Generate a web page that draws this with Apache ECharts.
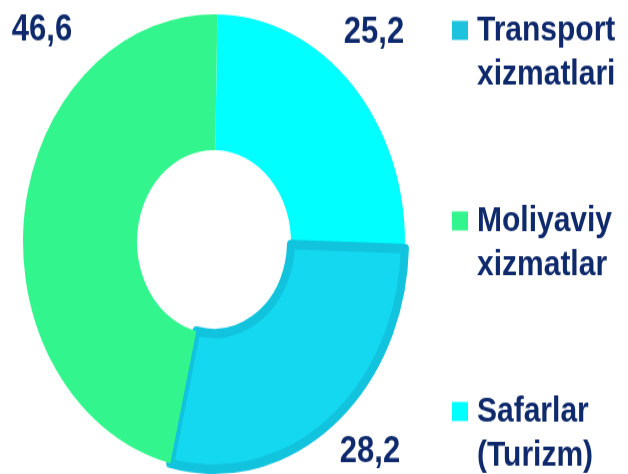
<!DOCTYPE html>
<html>
<head>
<meta charset="utf-8">
<script src="https://cdn.jsdelivr.net/npm/echarts@6/dist/echarts.min.js"></script>
<style>
html, body { margin: 0; padding: 0; background: #fff; }
#wrap { width: 628px; height: 474px; position: relative; overflow: hidden; }
/* the source picture is stretched vertically, so draw flat and stretch back */
#chart { position: absolute; left: 0; top: 0; width: 628px; height: 430px; transform: scaleY(1.191); transform-origin: 0 0; }
</style>
</head>
<body>
<div id="wrap"><div id="chart"></div></div>
<script>
// slices, clockwise from 12 o'clock
const names = ['Safarlar (Turizm)', 'Transport xizmatlari', 'Moliyaviy xizmatlar']
const values = [25.2, 28.2, 46.6]
const legendOrder = ['Transport xizmatlari', 'Moliyaviy xizmatlar', 'Safarlar (Turizm)']

const colors = ['#00ffff', '#14d8f0', '#33f58d']
const legendColors = ['#1dc3dc', '#33f58d', '#00ffff']
const labelPos = [[374, 27], [370, 379], [42, 25]]
const textColor = '#0f2a6c'
const font = '"Liberation Sans", Arial, sans-serif'

let chart = echarts.init(document.getElementById('chart'))

const option = {
  animation: false,
  legend: {
    orient: 'vertical',
    left: 452,
    top: -30,
    padding: 0,
    itemGap: 49,
    itemWidth: 16,
    itemHeight: 16,
    icon: 'rect',
    selectedMode: false,
    data: legendOrder.map((n, i) => ({ name: n, itemStyle: { color: legendColors[i], borderWidth: 0 } })),
    // empty first line keeps the first text line level with the square
    formatter: n => '\n' + n.replace(' ', '\n'),
    textStyle: {
      color: textColor,
      fontFamily: font,
      fontWeight: 'bold',
      fontSize: 30,
      lineHeight: 37,
      padding: [0, 0, 0, 4]
    }
  },
  graphic: values.map((v, i) => ({
    type: 'text',
    x: labelPos[i][0],
    y: labelPos[i][1],
    silent: true,
    style: {
      text: String(v).replace('.', ','),
      fill: textColor,
      font: 'bold 31px ' + font,
      align: 'center',
      verticalAlign: 'middle'
    }
  })),
  series: [{
    type: 'pie',
    center: [214, 203],
    radius: [77, 191],
    startAngle: 89,
    silent: true,
    label: { show: false },
    labelLine: { show: false },
    data: names.map((n, i) => {
      const item = { name: n, value: values[i], itemStyle: { color: colors[i] } }
      if (i === 1) {
        item.itemStyle.borderColor = '#11c3dd'
        item.itemStyle.borderWidth = 8
      }
      return item
    })
  }]
}
chart.setOption(option)
</script>
</body>
</html>
